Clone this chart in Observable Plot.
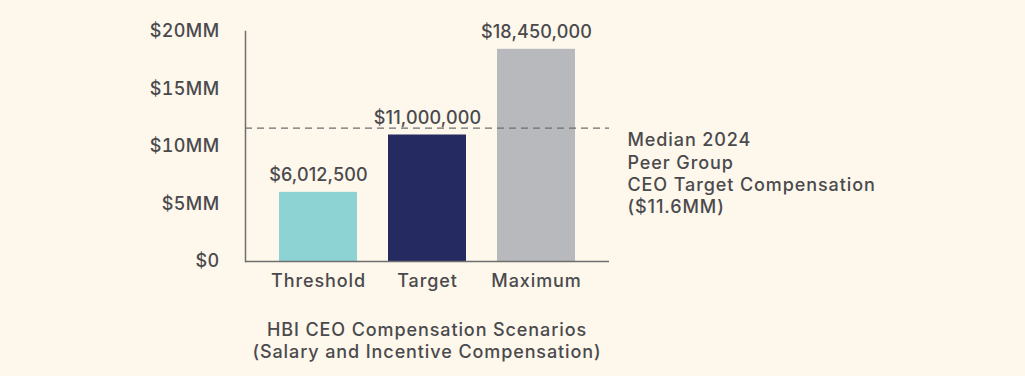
<!DOCTYPE html>
<html>
<head>
<meta charset="utf-8">
<script src="https://cdn.jsdelivr.net/npm/d3@7"></script>
<script src="https://cdn.jsdelivr.net/npm/@observablehq/plot@0.6"></script>
<style>
  html, body { margin: 0; padding: 0; background: #fdf7ec; }
  body { width: 1025px; height: 376px; overflow: hidden; font-family: Inter, "Open Sans", sans-serif; color: #4a4a4c; }
  #chart svg { display: block; }
  #caption { position: absolute; left: 177px; width: 500px; top: 319px; text-align: center; font-size: 18px; line-height: 22px; font-weight: 500; letter-spacing: 0.9px; color: #4a4a4c; }
</style>
</head>
<body>
<div id="chart"></div>
<div id="caption">HBI CEO Compensation Scenarios<br>(Salary and Incentive Compensation)</div>
<script>
const categories = ["Threshold", "Target", "Maximum"];
const values = [6012500, 11000000, 18450000];
const valueLabels = ["$6,012,500", "$11,000,000", "$18,450,000"];
const colors = ["#8ed3d3", "#252b60", "#b8b9bc"];
const yTicks = [0, 5e6, 10e6, 15e6, 20e6];
const yTickLabels = ["$0", "$5MM", "$10MM", "$15MM", "$20MM"];
const medianValue = 11.6e6;
const medianLabel = "Median 2024\nPeer Group\nCEO Target Compensation\n($11.6MM)";

const data = categories.map((c, i) => ({category: c, value: values[i], label: valueLabels[i]}));
const textColor = "#4a4a4c";

const chart = Plot.plot({
  width: 1025,
  height: 305,
  marginLeft: 245,
  marginRight: 416,
  marginTop: 31,
  marginBottom: 44,
  style: {background: "transparent", fontFamily: "Inter, 'Open Sans', sans-serif", fontSize: "18px", color: textColor, fontWeight: 500, overflow: "visible"},
  x: {domain: categories, paddingInner: 0.284, paddingOuter: 0.31, label: null},
  y: {domain: [0, 20e6], label: null},
  color: {domain: categories, range: colors},
  marks: [
    Plot.barY(data, {x: "category", y: "value", fill: "category"}),
    Plot.text(data, {x: "category", y: "value", text: "label", dy: -17, fill: textColor, fontSize: 18, fontWeight: 500}),
    Plot.ruleY([medianValue], {stroke: "#6f6f70", strokeWidth: 1.4, strokeDasharray: "7,5"}),
    Plot.text([medianLabel], {y: medianValue, frameAnchor: "right", dx: 18, dy: 2.5, textAnchor: "start", lineAnchor: "top", lineHeight: 1.24, fill: textColor, fontSize: 18, fontWeight: 500}),
    Plot.axisX({tickSize: 0, tickPadding: 13, fontSize: 18, fill: textColor, label: null}),
    Plot.axisY({ticks: yTicks, tickFormat: d => yTickLabels[yTicks.indexOf(d)], tickSize: 0, tickPadding: 26, fontSize: 18, fill: textColor, label: null}),
    Plot.frame({anchor: "left", stroke: "#6f6f70", strokeWidth: 1.5}),
    Plot.ruleY([0], {stroke: "#6f6f70", strokeWidth: 1.5})
  ]
});
const svg = d3.select(chart);
const textGroups = svg.selectAll('g[aria-label="text"]').nodes();
if (textGroups[0]) d3.select(textGroups[0]).style("letter-spacing", "0.15px");
if (textGroups[1]) d3.select(textGroups[1]).style("letter-spacing", "0.9px");
svg.selectAll('g[aria-label="x-axis tick label"]').style("letter-spacing", "0.9px");
svg.selectAll('g[aria-label="y-axis tick label"]').style("letter-spacing", "0.4px");
document.getElementById("chart").append(chart);
</script>
</body>
</html>
